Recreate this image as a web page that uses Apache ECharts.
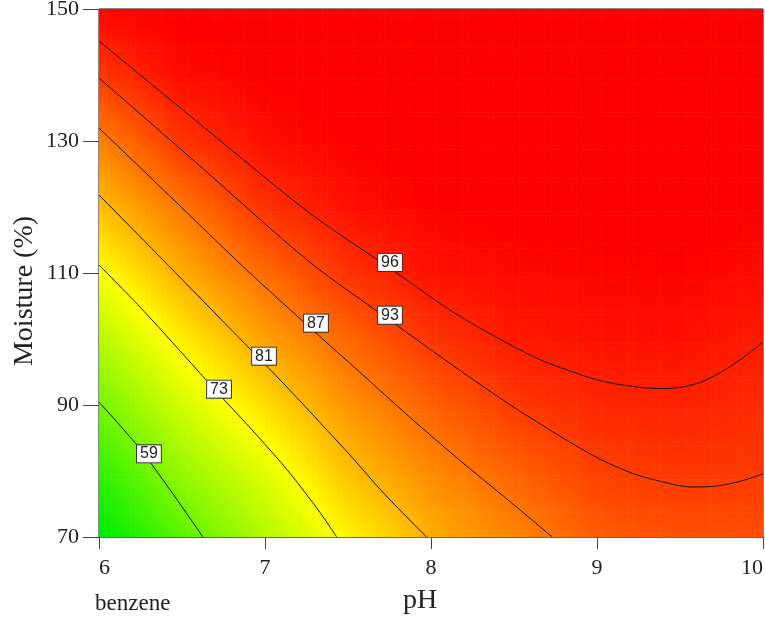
<!DOCTYPE html>
<html>
<head>
<meta charset="utf-8">
<script src="https://cdn.jsdelivr.net/npm/echarts@6/dist/echarts.min.js"></script>
<style>
  html, body { margin: 0; padding: 0; background: #fff; }
  #main { width: 765px; height: 621px; }
</style>
</head>
<body>
<div id="main"></div>
<script>
// grid nodes of the response surface
const phNodes = [6, 6.5, 7, 7.5, 8, 8.5, 9, 9.5, 10];
const moistureNodes = [70, 80, 90, 100, 110, 120, 130, 140, 150];
// one row per moisture node, one value per pH node
const surface = [
  [46, 56, 65, 74, 81.2, 85.2, 89.5, 90.8, 91],
  [52, 62.4, 70, 79.5, 85, 89, 92.5, 93.4, 93.1],
  [58.7, 68.4, 76.4, 84, 89.1, 93.1, 95, 95.4, 94.6],
  [65.4, 74.7, 82.5, 88.6, 93.6, 96.4, 97.2, 97.4, 96.1],
  [72.2, 81.4, 88.1, 93.8, 97.2, 98, 98.5, 98.7, 97.8],
  [79.6, 87, 94, 97.3, 98.8, 99.5, 99.5, 99.7, 99],
  [85.8, 93.7, 97.6, 99, 100, 100.2, 100.2, 100.3, 99.8],
  [93.3, 97.8, 99, 100, 100.5, 100.5, 100.5, 100.5, 100.2],
  [98.5, 99.5, 100, 100.5, 100.5, 100.5, 100.5, 100.5, 100.4]
];

// contour lines [pH, moisture]
const c59 = [[6.0, 90.45], [6.229, 83.94], [6.307, 81.36], [6.463, 75.91], [6.626, 70]];
const c73 = [[6.0, 111.21], [6.247, 104.85], [6.505, 97.73], [6.716, 91.82], [6.95, 85.45], [7.149, 79.7], [7.329, 73.79], [7.432, 70]];
const c81 = [[6.0, 121.82], [6.445, 110.45], [6.686, 104.24], [6.986, 96.52], [7.149, 92.27], [7.329, 87.4], [7.528, 81.97], [7.708, 76.82], [7.973, 70]];
const c87 = [[6.0, 131.97], [6.445, 121.21], [6.89, 110.45], [7.287, 101.36], [7.57, 95.0], [7.871, 88.18], [8.171, 81.67], [8.472, 75.45], [8.731, 70]];
const c93 = [[6.0, 139.55], [6.608, 126.21], [7.269, 111.67], [7.75, 102.88], [8.171, 95.3], [8.472, 90.1], [8.635, 87.5], [8.821, 84.6], [9.026, 81.7], [9.224, 79.55], [9.423, 78.18], [9.567, 77.58], [9.723, 77.73], [9.868, 78.48], [10.0, 79.55]];
const c96 = [[6.0, 145.15], [6.608, 132.58], [7.269, 119.09], [7.75, 110.76], [8.171, 103.48], [8.622, 97.27], [8.821, 95.3], [9.026, 93.64], [9.266, 92.65], [9.422, 92.5], [9.627, 93.48], [9.826, 96.21], [10.0, 99.55]];

// contour label boxes [pH, moisture, text]
const contourLabels = [
  [7.753, 111.6, '96'],
  [7.753, 103.6, '93'],
  [7.307, 102.4, '87'],
  [6.994, 97.4, '81'],
  [6.723, 92.4, '73'],
  [6.301, 82.6, '59']
];

const colorMin = 47, colorMid = 73, colorMax = 99;
const SUB = 16;

function colorOf(v) {
  let r, g;
  if (v <= colorMid) {
    const t = Math.max(0, (v - colorMin) / (colorMid - colorMin));
    r = 255 * t;
    g = 238 + 17 * t;
  } else {
    const t = Math.min(1, (v - colorMid) / (colorMax - colorMid));
    r = 255;
    g = 255 * (1 - t);
  }
  return 'rgb(' + Math.round(r) + ',' + Math.round(g) + ',0)';
}

const cells = [];
for (let r = 0; r < moistureNodes.length - 1; r++) {
  for (let c = 0; c < phNodes.length - 1; c++) {
    cells.push([phNodes[c], moistureNodes[r], phNodes[c + 1], moistureNodes[r + 1],
      surface[r][c], surface[r][c + 1], surface[r + 1][c], surface[r + 1][c + 1]]);
  }
}

function renderCell(params, api) {
  const p0 = api.coord([api.value(0), api.value(1)]);
  const p1 = api.coord([api.value(2), api.value(3)]);
  const v00 = api.value(4), v10 = api.value(5), v01 = api.value(6), v11 = api.value(7);
  const w = (p1[0] - p0[0]) / SUB;
  const h = (p0[1] - p1[1]) / SUB;
  const children = [];
  for (let i = 0; i < SUB; i++) {
    const u = (i + 0.5) / SUB;
    for (let j = 0; j < SUB; j++) {
      const t = (j + 0.5) / SUB;
      const v = v00 * (1 - u) * (1 - t) + v10 * u * (1 - t) + v01 * (1 - u) * t + v11 * u * t;
      children.push({
        type: 'rect',
        shape: { x: p0[0] + i * w, y: p0[1] - (j + 1) * h, width: w + 0.6, height: h + 0.6 },
        style: { fill: colorOf(v) }
      });
    }
  }
  return { type: 'group', children: children };
}

function contour(data) {
  return {
    type: 'line',
    data: data,
    smooth: 0.3,
    showSymbol: false,
    silent: true,
    z: 3,
    lineStyle: { color: '#111', width: 1 }
  };
}

const serif = 'Liberation Serif';
const chart = echarts.init(document.getElementById('main'));
chart.setOption({
  animation: false,
  backgroundColor: '#fff',
  title: {
    text: 'benzene',
    left: 95,
    top: 592,
    padding: 0,
    textStyle: { fontFamily: serif, fontSize: 23, fontWeight: 'normal', color: '#222' }
  },
  grid: {
    left: 99, right: 2, top: 9, bottom: 84,
    outerBoundsMode: 'none',
    containLabel: false,
    show: true,
    borderColor: '#111',
    borderWidth: 1,
    backgroundColor: 'transparent'
  },
  xAxis: {
    type: 'value',
    min: 6, max: 10, interval: 1,
    name: 'pH',
    nameLocation: 'middle',
    nameGap: 50,
    nameTextStyle: { fontFamily: serif, fontSize: 28, color: '#222', padding: [0, 22, 0, 0] },
    axisLine: { lineStyle: { color: '#666' } },
    axisTick: { length: 12, lineStyle: { color: '#444' } },
    axisLabel: {
      margin: 20, fontFamily: serif, fontSize: 22, color: '#222',
      alignMinLabel: 'left', alignMaxLabel: 'right'
    },
    splitLine: { show: false }
  },
  yAxis: {
    type: 'value',
    min: 70, max: 150, interval: 20,
    name: 'Moisture (%)',
    nameLocation: 'middle',
    nameGap: 60,
    nameMoveOverlap: false,
    nameTextStyle: { fontFamily: serif, fontSize: 28, color: '#222', padding: [0, 36, 0, 0] },
    axisLine: { lineStyle: { color: '#666' } },
    axisTick: { length: 16, lineStyle: { color: '#444' } },
    axisLabel: { margin: 20, fontFamily: serif, fontSize: 22, color: '#222' },
    splitLine: { show: false }
  },
  series: [
    {
      type: 'custom',
      data: cells,
      encode: { x: [0, 2], y: [1, 3] },
      renderItem: renderCell,
      silent: true,
      clip: true,
      z: 1
    },
    contour(c59),
    contour(c73),
    contour(c81),
    contour(c87),
    contour(c93),
    contour(c96),
    {
      type: 'scatter',
      data: contourLabels,
      symbolSize: 1,
      itemStyle: { color: 'rgba(0,0,0,0)' },
      silent: true,
      z: 6,
      label: {
        show: true,
        position: 'inside',
        opacity: 1,
        formatter: function (p) { return p.value[2]; },
        fontFamily: 'Liberation Sans',
        fontSize: 16,
        color: '#222',
        backgroundColor: '#fff',
        borderColor: '#333',
        borderWidth: 1,
        padding: [1, 3, 0, 3]
      }
    }
  ]
});
</script>
</body>
</html>
